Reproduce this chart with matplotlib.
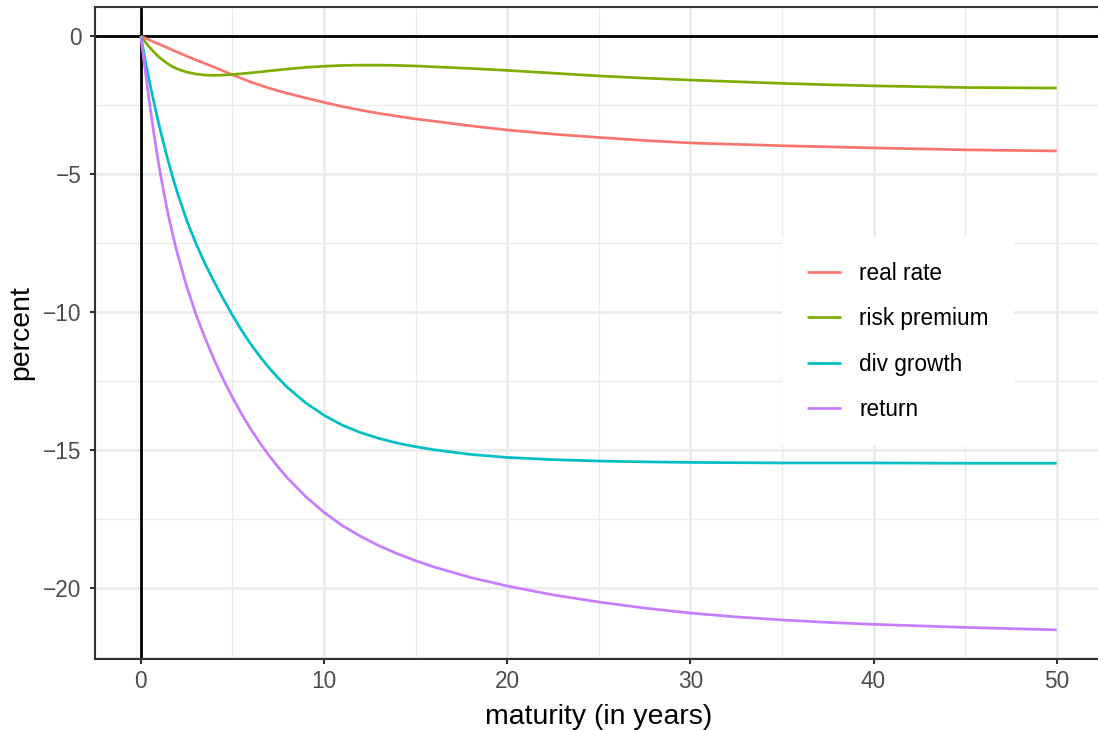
import matplotlib
matplotlib.use("Agg")
import matplotlib.pyplot as plt
from matplotlib.ticker import FixedLocator

plt.rcParams['font.family'] = ['Liberation Sans', 'DejaVu Sans']

maturity = [0, 0.25, 0.5, 0.75, 1, 1.25, 1.5, 1.75, 2, 2.5, 3, 3.5, 4, 4.5, 5, 5.5,
            6, 6.5, 7, 7.5, 8, 9, 10, 11, 12, 13, 14, 15, 16, 18, 20, 22.5, 25, 27.5,
            30, 32.5, 35, 37.5, 40, 45, 50]

real_rate = [0, -0.07, -0.145, -0.22, -0.29, -0.36, -0.435, -0.51, -0.58, -0.72, -0.86,
             -0.99, -1.12, -1.26, -1.40, -1.53, -1.66, -1.77, -1.88, -1.98, -2.07,
             -2.24, -2.40, -2.55, -2.68, -2.80, -2.90, -3.00, -3.08, -3.25, -3.40,
             -3.55, -3.67, -3.78, -3.87, -3.92, -3.97, -4.01, -4.05, -4.12, -4.16]

risk_premium = [0, -0.22, -0.42, -0.60, -0.76, -0.89, -1.01, -1.11, -1.19, -1.30, -1.37,
                -1.41, -1.42, -1.41, -1.39, -1.36, -1.33, -1.295, -1.26, -1.225, -1.19,
                -1.13, -1.09, -1.06, -1.05, -1.05, -1.06, -1.08, -1.11, -1.17, -1.24,
                -1.34, -1.44, -1.52, -1.59, -1.65, -1.71, -1.76, -1.80, -1.86, -1.88]

div_growth = [0, -0.89, -1.725, -2.50, -3.225, -3.90, -4.54, -5.13, -5.68, -6.66, -7.50,
              -8.24, -8.90, -9.52, -10.11, -10.66, -11.16, -11.61, -12.02, -12.39, -12.73,
              -13.29, -13.74, -14.10, -14.37, -14.58, -14.75, -14.88, -14.99, -15.16, -15.27,
              -15.35, -15.40, -15.43, -15.45, -15.46, -15.47, -15.47, -15.47, -15.48, -15.48]

returns = [0, -1.28, -2.55, -3.69, -4.73, -5.65, -6.48, -7.21, -7.88, -9.06, -10.06,
           -10.93, -11.72, -12.44, -13.09, -13.69, -14.24, -14.74, -15.20, -15.62, -16.01,
           -16.69, -17.26, -17.74, -18.13, -18.47, -18.76, -19.01, -19.24, -19.62, -19.93,
           -20.25, -20.51, -20.73, -20.91, -21.05, -21.16, -21.25, -21.32, -21.43, -21.52]

series_names = ["real rate", "risk premium", "div growth", "return"]
series_values = [real_rate, risk_premium, div_growth, returns]
colors = ["#F8766D", "#7CAE00", "#00BFC4", "#C77CFF"]

x_ticks = [0, 10, 20, 30, 40, 50]
y_ticks = [0, -5, -10, -15, -20]
y_tick_labels = ["0", "\u22125", "\u221210", "\u221215", "\u221220"]

W, H = 1098, 730
fig = plt.figure(figsize=(W / 100, H / 100), dpi=100)
left_px, right_px, top_px, bottom_px = 95, 1102.5, 6.5, 659
ax = fig.add_axes([left_px / W, 1 - bottom_px / H, (right_px - left_px) / W, (bottom_px - top_px) / H])

ax.set_xlim(-2.5, 52.5)
ax.set_ylim(-22.576, 1.076)

grid_col = "#EBEBEB"
ax.xaxis.set_major_locator(FixedLocator(x_ticks))
ax.xaxis.set_minor_locator(FixedLocator([5, 15, 25, 35, 45]))
ax.yaxis.set_major_locator(FixedLocator(y_ticks))
ax.yaxis.set_minor_locator(FixedLocator([-2.5, -7.5, -12.5, -17.5, -22.5]))
ax.grid(which='major', color=grid_col, linewidth=1.9, zorder=0)
ax.grid(which='minor', color=grid_col, linewidth=0.95, zorder=0)
ax.set_axisbelow(True)

ax.axhline(0, color='black', linewidth=2.0, zorder=1.5)
ax.axvline(0, color='black', linewidth=2.0, zorder=1.5)

for name, vals, c in zip(series_names, series_values, colors):
    ax.plot(maturity, vals, color=c, linewidth=1.95, label=name, zorder=2,
            solid_capstyle='butt', solid_joinstyle='round')

ax.set_xticklabels([str(v) for v in x_ticks])
ax.set_yticklabels(y_tick_labels)
ax.tick_params(which='major', length=3.7, width=1.5, color='#333333',
               labelcolor='#4D4D4D', labelsize=16.3)
ax.tick_params(axis='x', pad=4)
ax.tick_params(axis='y', pad=6)
ax.tick_params(which='minor', length=0)

for sp in ax.spines.values():
    sp.set_color('#333333')
    sp.set_linewidth(1.5)
ax.spines['right'].set_visible(False)

ax.set_xlabel("maturity (in years)", fontsize=20.4, color='black', labelpad=8)
ax.set_ylabel("percent", fontsize=20.4, color='black', labelpad=6)

leg = ax.legend(loc='center', bbox_to_anchor=(898 / W, 1 - 341.5 / H),
                bbox_transform=fig.transFigure, frameon=True, fancybox=False,
                edgecolor='none', facecolor='white', framealpha=1,
                fontsize=16.3, borderpad=1.1, handlelength=1.48,
                handletextpad=0.83, labelspacing=0.99, borderaxespad=0)
for t in leg.get_texts():
    t.set_color('black')

fig.savefig("out.png", dpi=100)
